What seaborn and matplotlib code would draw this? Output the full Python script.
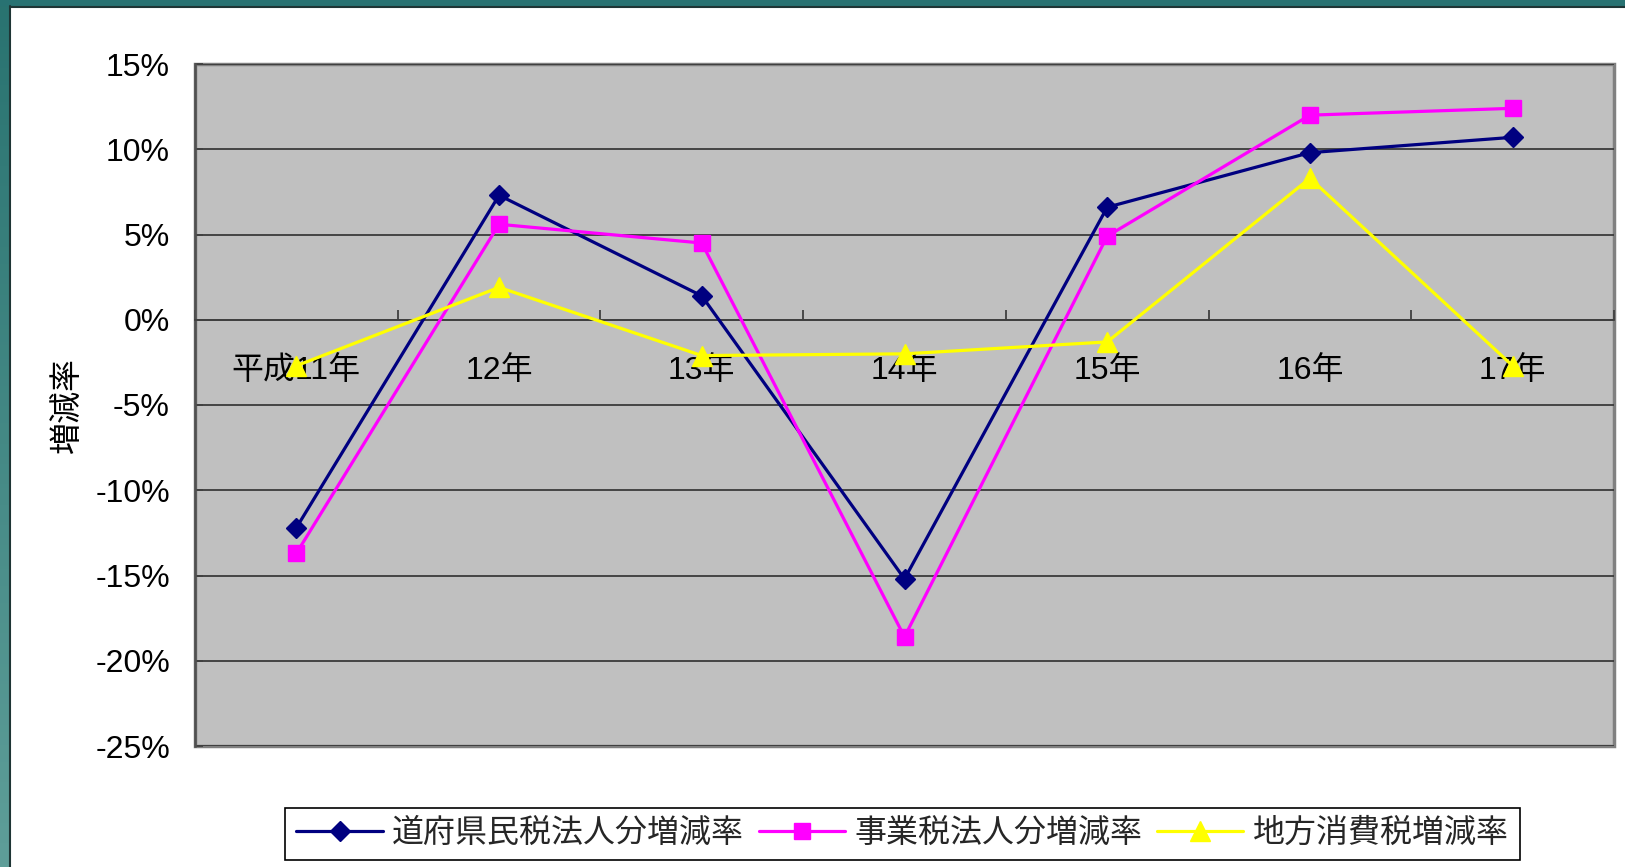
import numpy as np
import pandas as pd
import matplotlib
matplotlib.use('Agg')
import matplotlib.pyplot as plt
import seaborn as sns
from matplotlib.ticker import FixedLocator, NullFormatter
from matplotlib.lines import Line2D

# ---------------- data ----------------
categories = ['平成11年', '12年', '13年', '14年', '15年', '16年', '17年']
prefectural = [-12.2, 7.3, 1.4, -15.2, 6.6, 9.8, 10.7]
business = [-13.7, 5.6, 4.5, -18.6, 4.9, 12.0, 12.4]
consumption = [-2.7, 1.9, -2.1, -2.0, -1.3, 8.3, -2.7]
series_names = ['道府県民税法人分増減率', '事業税法人分増減率', '地方消費税増減率']
y_ticks = [15, 10, 5, 0, -5, -10, -15, -20, -25]
y_tick_labels = ['15%', '10%', '5%', '0%', '-5%', '-10%', '-15%', '-20%', '-25%']
y_label = '増減率'

sns.set_theme(style='white')
plt.rcParams['font.family'] = ['Liberation Sans Narrow', 'Liberation Sans',
                               'Noto Sans CJK JP', 'DejaVu Sans']

W, H = 1625, 867
fig = plt.figure(figsize=(W / 100, H / 100), dpi=100)
fig.patch.set_facecolor('white')

# teal frame (left and top strips)
grad = np.linspace(0, 1, 256).reshape(-1, 1, 1)
top_c = np.array([0.16, 0.45, 0.44])
bot_c = np.array([0.37, 0.62, 0.60])
img = top_c * (1 - grad) + bot_c * grad
lax = fig.add_axes([0, 0, 9 / W, 1])
lax.imshow(img, aspect='auto')
lax.set_axis_off()
tax = fig.add_axes([0, 1 - 6 / H, 1, 6 / H])
tax.set_facecolor('#287272')
tax.set_xticks([]); tax.set_yticks([])
for s in tax.spines.values():
    s.set_visible(False)
fig.add_artist(Line2D([9.5 / W, 9.5 / W], [0, 1 - 6 / H], color='#1e3535', lw=1.5,
                      transform=fig.transFigure))
fig.add_artist(Line2D([9.5 / W, 1], [1 - 6.5 / H, 1 - 6.5 / H], color='#1e3535', lw=1.5,
                      transform=fig.transFigure))

# main axes
ax = fig.add_axes([195 / W, 1 - 746 / H, (1614 - 195) / W, (746 - 64) / H])
ax.set_facecolor('#c0c0c0')
ax.patch.set_edgecolor('#808080')
ax.patch.set_linewidth(2.5)

xpos = np.arange(len(categories))
colors = ['#000080', '#ff00ff', '#ffff00']
markers = ['D', 's', '^']
msizes = [10.5, 11.5, 14]
for vals, name, c, m, ms in zip([prefectural, business, consumption],
                                series_names, colors, markers, msizes):
    sns.lineplot(x=xpos, y=vals, ax=ax, color=c, marker=m, markersize=ms,
                 markeredgecolor=c, markeredgewidth=1, linewidth=2.3,
                 label=name, zorder=3, sort=False)

ax.set_xlim(-0.5, len(categories) - 0.5)
ax.set_ylim(-25, 15)

for k in ['top', 'right']:
    ax.spines[k].set_visible(False)
ax.spines['bottom'].set_position(('data', 0))
ax.spines['bottom'].set_color('#404040')
ax.spines['bottom'].set_linewidth(1.3)
ax.spines['left'].set_color('#505050')
ax.spines['left'].set_linewidth(1.8)

ax.set_yticks(y_ticks)
ax.set_yticklabels(y_tick_labels)
ax.tick_params(axis='y', direction='in', length=6, width=1.3, color='#404040',
               pad=18, labelsize=23, left=True, labelcolor='black')
ax.yaxis.grid(True, color='#3a3a3a', linewidth=1.3)
ax.xaxis.grid(False)
ax.set_axisbelow(True)

ax.xaxis.set_major_locator(FixedLocator(np.arange(-0.5, len(categories), 1.0)))
ax.xaxis.set_major_formatter(NullFormatter())
ax.set_xticks(xpos, minor=True)
ax.set_xticklabels(categories, minor=True)
ax.tick_params(axis='x', which='major', direction='in', length=7, width=1.3,
               color='#404040', bottom=True)
ax.tick_params(axis='x', which='minor', length=0, pad=26, labelsize=23,
               bottom=True, labelcolor='black')

ax.set_xlabel('')
ax.set_ylabel(y_label, fontsize=23, color='black')
ax.yaxis.set_label_coords(-0.078, 0.5)

handles, labels = ax.get_legend_handles_labels()
ax.get_legend().remove()
leg = fig.legend(handles, labels, loc='center', bbox_to_anchor=(0.5554, 0.038),
                 ncol=3, frameon=True, fontsize=23, handlelength=2.7,
                 handletextpad=0.3, columnspacing=0.45, borderpad=0.35,
                 fancybox=False, edgecolor='black', framealpha=1)
leg.get_frame().set_linewidth(1.2)

fig.savefig('out.png', dpi=100)
